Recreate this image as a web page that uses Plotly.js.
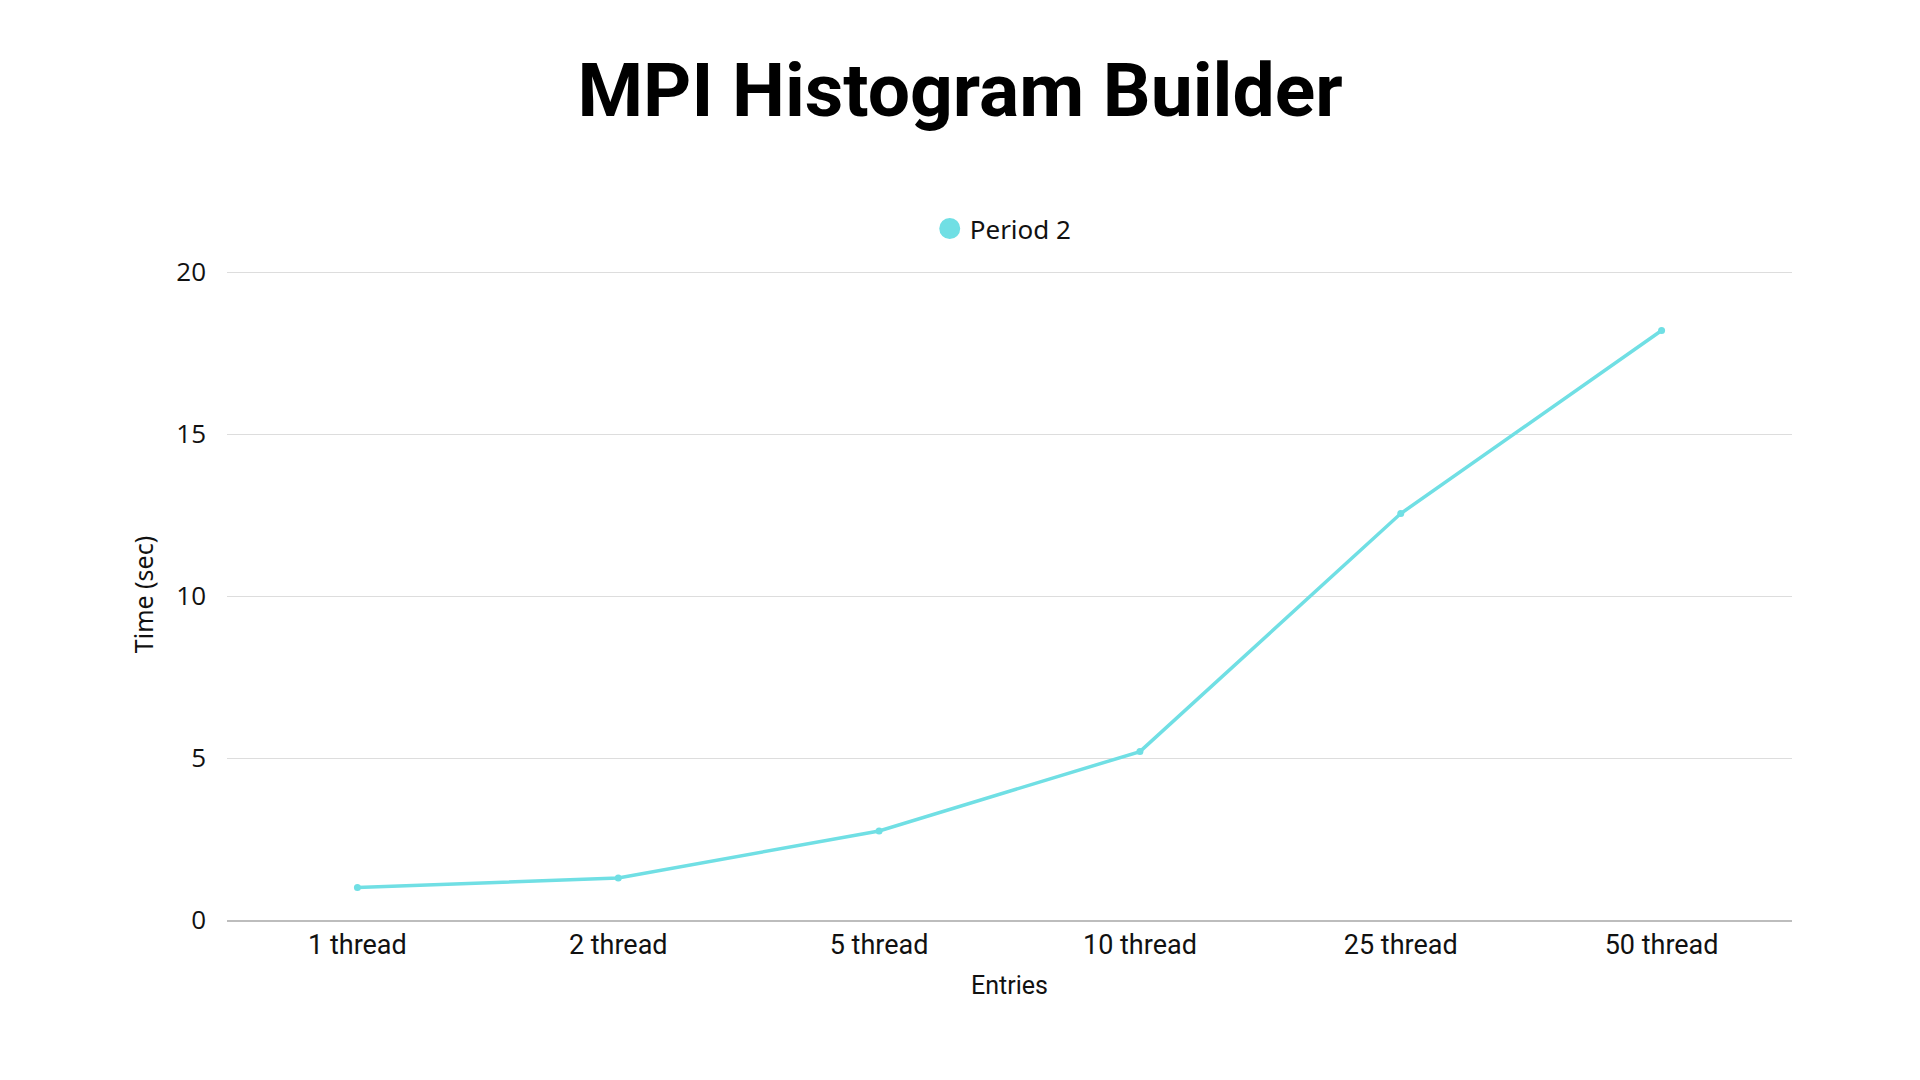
<!DOCTYPE html>
<html>
<head>
<meta charset="utf-8">
<script src="https://cdn.plot.ly/plotly-3.0.1.min.js"></script>
<style>html,body{margin:0;padding:0;background:#fff;}#chart{width:1920px;height:1080px;}</style>
</head>
<body>
<div id="chart"></div>
<script>
const categories = ["1 thread", "2 thread", "5 thread", "10 thread", "25 thread", "50 thread"];
const period2 = [1.0, 1.3, 2.75, 5.2, 12.55, 18.2];
const yTicks = [0, 5, 10, 15, 20];
const seriesName = "Period 2";
const chartTitle = "MPI Histogram Builder";
const xTitle = "Entries";
const yTitle = "Time (sec)";

const color = "#70dfe4";

const traces = [
  {
    x: categories, y: period2, type: "scatter", mode: "lines+markers",
    line: {color: color, width: 3.5}, marker: {color: color, size: 7},
    name: seriesName, showlegend: false, legendgroup: "p2", hoverinfo: "x+y"
  },
  {
    x: [null], y: [null], type: "scatter", mode: "markers",
    marker: {color: color, size: 16, line: {color: color, width: 5}},
    name: seriesName, showlegend: true, legendgroup: "p2"
  }
];

const layout = {
  width: 1920, height: 1080,
  paper_bgcolor: "#ffffff", plot_bgcolor: "#ffffff",
  margin: {l: 227, r: 128, t: 269, b: 160},
  title: {
    text: "<b>" + chartTitle + "</b>",
    font: {family: "Roboto, 'Noto Sans', sans-serif", size: 75, color: "#000"},
    x: 0.5, xanchor: "center", y: 0.917, yanchor: "middle", yref: "container"
  },
  showlegend: true,
  legend: {
    orientation: "h", x: 0.496, xanchor: "center", y: 1.062, yanchor: "middle",
    font: {family: "'Noto Sans', sans-serif", size: 26, color: "#111"},
    itemwidth: 30
  },
  xaxis: {
    type: "category", range: [-0.5, 5.5],
    showgrid: false, zeroline: false,
    showline: true, linecolor: "#bdbdbd", linewidth: 2,
    ticks: "", ticklabelstandoff: 0,
    tickfont: {family: "Roboto, sans-serif", size: 27, color: "#111"},
    title: {text: xTitle, font: {family: "Roboto, sans-serif", size: 25, color: "#111"}, standoff: 16}
  },
  yaxis: {
    range: [0, 20.1], tickvals: yTicks,
    showgrid: true, gridcolor: "#dddddd", gridwidth: 1,
    zeroline: false, showline: false,
    ticks: "", ticklabelstandoff: 20,
    tickfont: {family: "'Open Sans', sans-serif", size: 26, color: "#111"},
    title: {text: yTitle, font: {family: "'Noto Sans', sans-serif", size: 25, color: "#111"}, standoff: 15}
  }
};

Plotly.newPlot("chart", traces, layout, {displayModeBar: false, staticPlot: true});
</script>
</body>
</html>
